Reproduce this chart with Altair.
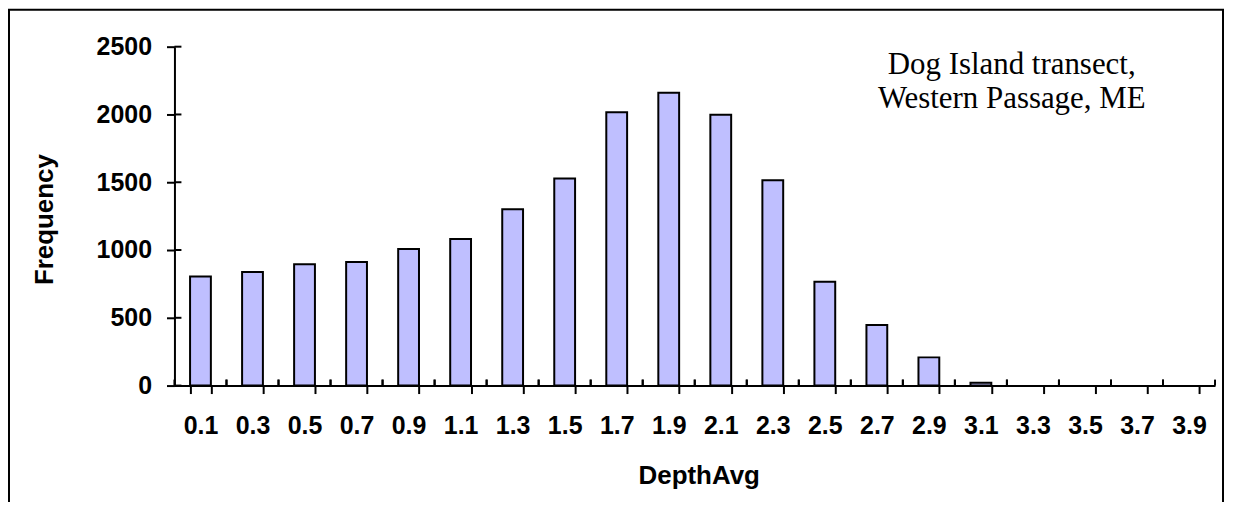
import altair as alt
import pandas as pd

categories = ["0.1", "0.3", "0.5", "0.7", "0.9", "1.1", "1.3", "1.5", "1.7", "1.9",
              "2.1", "2.3", "2.5", "2.7", "2.9", "3.1", "3.3", "3.5", "3.7", "3.9"]
frequency = [804, 838, 895, 912, 1007, 1081, 1301, 1527, 2017, 2160,
             1998, 1515, 765, 446, 208, 20, 0, 0, 0, 0]
y_ticks = [0, 500, 1000, 1500, 2000, 2500]
note_lines = ["Dog Island transect,", "Western Passage, ME"]
x_title = "DepthAvg"
y_title = "Frequency"

df = pd.DataFrame({"DepthAvg": categories, "Frequency": frequency})
ticks_df = pd.DataFrame({"v": y_ticks})

W, H = 1044, 340
N = len(categories)
PAD_INNER, PAD_OUTER = 0.6, 0.3
STEP = W / (N - PAD_INNER + 2 * PAD_OUTER)
LABEL_FONT = "Liberation Sans"

x_scale = alt.Scale(paddingInner=PAD_INNER, paddingOuter=PAD_OUTER)

x_enc = alt.X(
    "DepthAvg:N",
    sort=None,
    scale=x_scale,
    axis=alt.Axis(
        title=x_title,
        labelAngle=0,
        tickBand="extent",
        tickSize=8,
        labelPadding=20,
        titleX=526,
        titleY=98,
        titleBaseline="alphabetic",
        titleAlign="center",
    ),
)
y_scale = alt.Scale(domain=[0, 2500], nice=False)

bars = alt.Chart(df).mark_bar(
    fill="#BFBFFF", stroke="black", strokeWidth=2
).encode(
    x=x_enc,
    y=alt.Y(
        "Frequency:Q",
        scale=y_scale,
        axis=alt.Axis(
            title=y_title,
            values=y_ticks,
            format="d",
            tickSize=8,
            labelPadding=15,
            titleAngle=270,
            titleX=-130,
            titleY=173,
            titleAlign="center",
            titleBaseline="middle",
        ),
    ),
    strokeOpacity=alt.condition("datum.Frequency > 0", alt.value(1), alt.value(0)),
)

# upper halves of the crossing tick marks (Excel style)
inner_yticks = alt.Chart(ticks_df).mark_rule(color="black", strokeWidth=2).encode(
    y=alt.Y("v:Q", scale=y_scale),
    x=alt.value(0),
    x2=alt.value(7),
)
inner_xticks_start = alt.Chart(df).mark_rule(
    color="black", strokeWidth=2, xOffset=-PAD_OUTER * STEP
).encode(
    x=alt.X("DepthAvg:N", sort=None, scale=x_scale, bandPosition=0),
    y=alt.value(H - 6),
    y2=alt.value(H),
)
inner_xticks_end = alt.Chart(df).mark_rule(
    color="black", strokeWidth=2, xOffset=PAD_OUTER * STEP
).encode(
    x=alt.X("DepthAvg:N", sort=None, scale=x_scale, bandPosition=1),
    y=alt.value(H - 6),
    y2=alt.value(H),
)

note = alt.Chart(pd.DataFrame({"t": [0]})).mark_text(
    font="Liberation Serif",
    fontSize=31,
    lineHeight=35,
    align="center",
    baseline="alphabetic",
    color="black",
).encode(
    x=alt.value(840),
    y=alt.value(27),
    text=alt.value(note_lines),
)

frame = alt.Chart(pd.DataFrame({"t": [0]})).mark_rect(
    fill=None, stroke="black", strokeWidth=2
).encode(
    x=alt.value(-166),
    x2=alt.value(1052),
    y=alt.value(-37),
    y2=alt.value(480),
)

chart = alt.layer(
    frame, bars, inner_yticks, inner_xticks_start, inner_xticks_end, note
).properties(
    width=W,
    height=H,
    background="white",
    autosize=alt.AutoSizeParams(type="none"),
    padding={"left": 167, "top": 38, "right": 10, "bottom": 116},
).configure_view(
    stroke=None
).configure_axis(
    domainColor="black",
    domainWidth=2,
    tickColor="black",
    tickWidth=2,
    grid=False,
    labelFont=LABEL_FONT,
    labelFontSize=25,
    labelFontWeight="bold",
    labelColor="black",
    titleFont=LABEL_FONT,
    titleFontSize=26,
    titleFontWeight="bold",
    titleColor="black",
)

chart.save("out.html", embed_options={"renderer": "svg", "actions": False})
